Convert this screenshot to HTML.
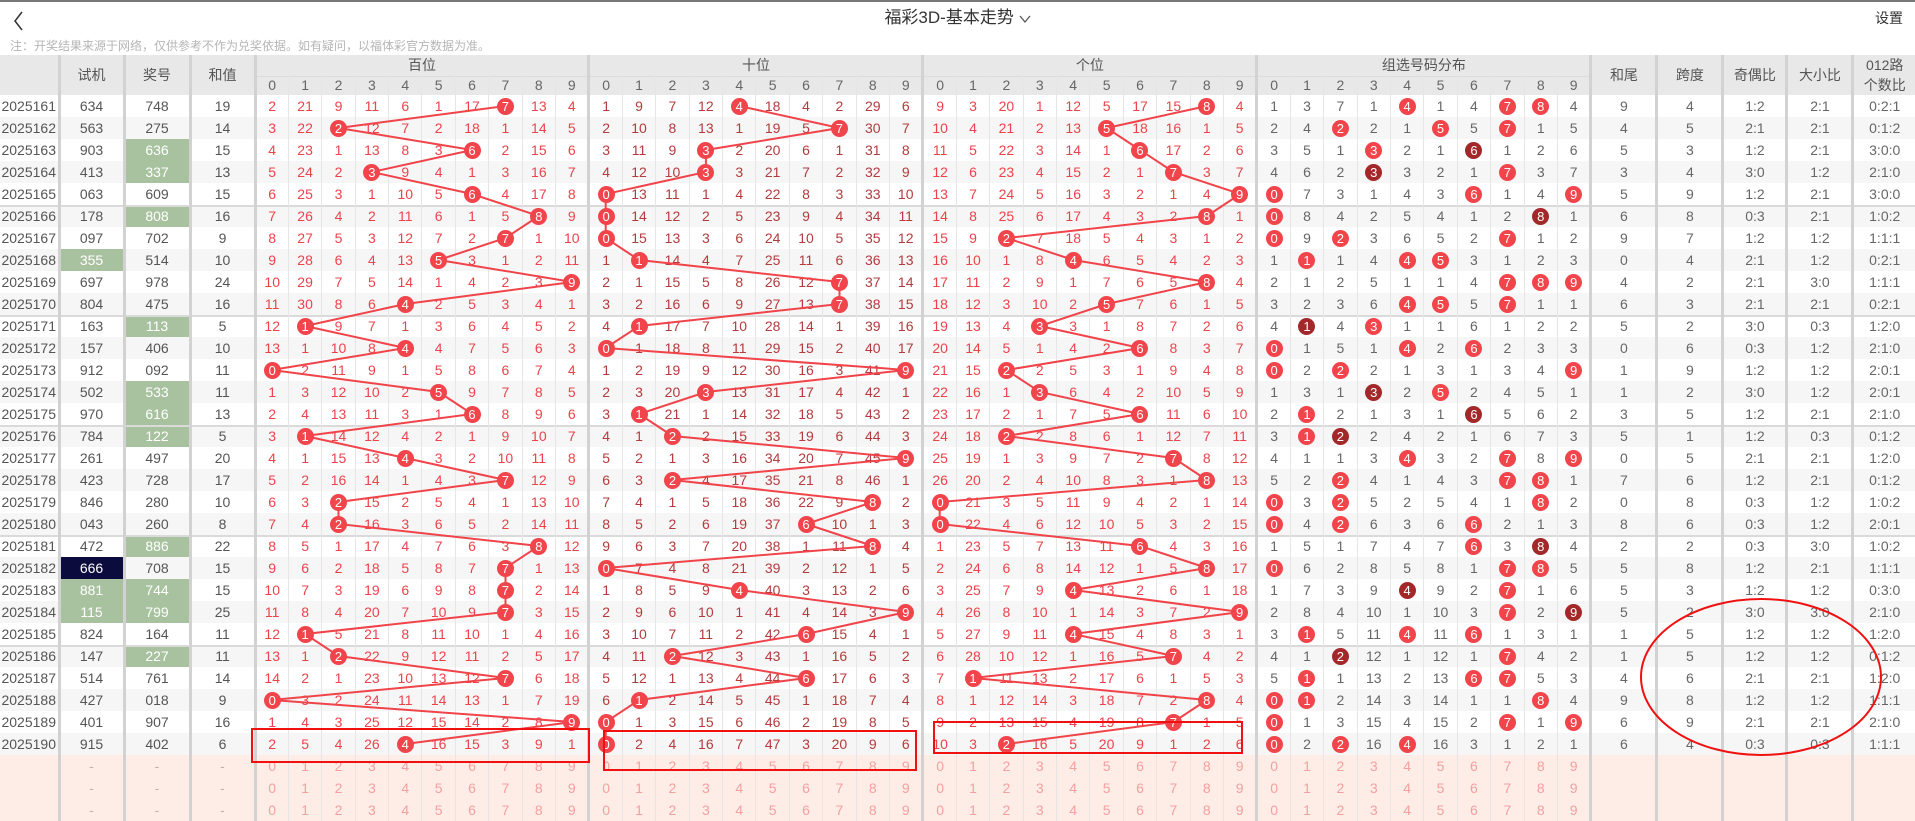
<!DOCTYPE html>
<html><head><meta charset="utf-8"><style>
*{margin:0;padding:0;box-sizing:border-box}
body{width:1915px;height:806px;overflow:hidden;background:#fff;position:relative;font-family:"Liberation Sans","Noto Sans CJK SC",sans-serif;color:#555}
.topl{position:absolute;left:0;top:0;width:1915px;height:2px;background:#777}
.title{position:absolute;left:0;top:6px;width:1915px;text-align:center;font-size:17px;color:#333;line-height:24px}
.set{position:absolute;right:12px;top:8px;font-size:14px;color:#333;line-height:20px}
.note{position:absolute;left:10px;top:38px;font-size:12px;color:#b5b5b5;line-height:16px;white-space:nowrap}
table{position:absolute;left:0;top:55px;width:1915px;border-collapse:collapse;table-layout:fixed;font-size:14px}
td{height:22px;padding:0;text-align:center;vertical-align:middle;line-height:22px;border-left:1px solid #e6e6e6;white-space:nowrap;overflow:visible}
tr.h td{background:#e8e8e8;color:#555;border-left:3px solid #d2d2d2;height:21px;line-height:21px}
tr.h2 td{background:#e8e8e8;color:#666;height:19px;line-height:19px;box-shadow:inset 0 1px 0 #dcdcdc}
tr.h2 td:nth-child(10n+1){border-left:3px solid #d2d2d2}
tr.r:nth-child(even) td{background:#f6f6f6}
tr.r td:nth-child(-n+4),tr.r td:nth-child(10n+5),tr.r td:nth-child(n+45),tr.f td:nth-child(-n+4),tr.f td:nth-child(10n+5),tr.f td:nth-child(n+45){border-left:3px solid #d2d2d2}
tr.r td:first-child,tr.f td:first-child,tr.h td:first-child{border-left:none}
tr.r td:nth-child(n+5):nth-child(-n+14),tr.r td:nth-child(n+25):nth-child(-n+34){color:#ec434b}
tr.r td:nth-child(n+15):nth-child(-n+24){color:#b43a3c}
tr.r td:nth-child(n+35){color:#666}
tr.r td:first-child{color:#555}
tr.k td{box-shadow:inset 0 2px 0 #dadada}
tr.f td{background:#fdede6;color:#f5a0a0}
tr.f td:nth-child(-n+4){color:#c8b0a8}
td.g{background:#a8c2a0 !important;color:#fff !important}
td.n{background:#0b0b3d !important;color:#fff !important}
i{display:inline-block;width:17px;height:17px;line-height:17px;border-radius:50%;background:#f2444b;color:#fff;font-style:normal;position:relative;z-index:2;font-size:13px;vertical-align:middle;margin-top:-2px}
i.d{background:#a2282a}
svg.ln{position:absolute;left:0;top:0;z-index:1;pointer-events:none}
svg.an{position:absolute;left:0;top:0;z-index:3;pointer-events:none}
</style></head><body>
<div class="topl"></div>
<svg style="position:absolute;left:12px;top:10px" width="14" height="22"><polyline points="10,2 3,11 10,20" fill="none" stroke="#333" stroke-width="1.5"/></svg>
<div class="title">福彩3D-基本走势 <svg width="12" height="10" style="vertical-align:middle"><polyline points="1,2 6,8 11,2" fill="none" stroke="#555" stroke-width="1.3"/></svg></div>
<div class="set">设置</div>
<div class="note">注：开奖结果来源于网络，仅供参考不作为兑奖依据。如有疑问，以福体彩官方数据为准。</div>
<table>
<colgroup><col style="width:59px"><col style="width:65px"><col style="width:66px"><col style="width:65px">
<col span="40" style="width:33.4px">
<col style="width:66px"><col style="width:66px"><col style="width:64px"><col style="width:66px"><col style="width:62px"></colgroup>
<tr class="h"><td rowspan="2" style="height:40px"></td><td rowspan="2">试机</td><td rowspan="2">奖号</td><td rowspan="2">和值</td><td colspan="10">百位</td><td colspan="10">十位</td><td colspan="10">个位</td><td colspan="10">组选号码分布</td><td rowspan="2">和尾</td><td rowspan="2">跨度</td><td rowspan="2">奇偶比</td><td rowspan="2">大小比</td><td rowspan="2" style="line-height:20px">012路<br>个数比</td></tr>
<tr class="h2"><td>0<td>1<td>2<td>3<td>4<td>5<td>6<td>7<td>8<td>9<td>0<td>1<td>2<td>3<td>4<td>5<td>6<td>7<td>8<td>9<td>0<td>1<td>2<td>3<td>4<td>5<td>6<td>7<td>8<td>9<td>0<td>1<td>2<td>3<td>4<td>5<td>6<td>7<td>8<td>9</tr>
<tr class="r"><td>2025161<td>634<td>748<td>19<td>2<td>21<td>9<td>11<td>6<td>1<td>17<td><i>7</i><td>13<td>4<td>1<td>9<td>7<td>12<td><i>4</i><td>18<td>4<td>2<td>29<td>6<td>9<td>3<td>20<td>1<td>12<td>5<td>17<td>15<td><i>8</i><td>4<td>1<td>3<td>7<td>1<td><i>4</i><td>1<td>4<td><i>7</i><td><i>8</i><td>4<td>9<td>4<td>1:2<td>2:1<td>0:2:1</tr>
<tr class="r"><td>2025162<td>563<td>275<td>14<td>3<td>22<td><i>2</i><td>12<td>7<td>2<td>18<td>1<td>14<td>5<td>2<td>10<td>8<td>13<td>1<td>19<td>5<td><i>7</i><td>30<td>7<td>10<td>4<td>21<td>2<td>13<td><i>5</i><td>18<td>16<td>1<td>5<td>2<td>4<td><i>2</i><td>2<td>1<td><i>5</i><td>5<td><i>7</i><td>1<td>5<td>4<td>5<td>2:1<td>2:1<td>0:1:2</tr>
<tr class="r"><td>2025163<td>903<td class="g">636<td>15<td>4<td>23<td>1<td>13<td>8<td>3<td><i>6</i><td>2<td>15<td>6<td>3<td>11<td>9<td><i>3</i><td>2<td>20<td>6<td>1<td>31<td>8<td>11<td>5<td>22<td>3<td>14<td>1<td><i>6</i><td>17<td>2<td>6<td>3<td>5<td>1<td><i>3</i><td>2<td>1<td><i class="d">6</i><td>1<td>2<td>6<td>5<td>3<td>1:2<td>2:1<td>3:0:0</tr>
<tr class="r"><td>2025164<td>413<td class="g">337<td>13<td>5<td>24<td>2<td><i>3</i><td>9<td>4<td>1<td>3<td>16<td>7<td>4<td>12<td>10<td><i>3</i><td>3<td>21<td>7<td>2<td>32<td>9<td>12<td>6<td>23<td>4<td>15<td>2<td>1<td><i>7</i><td>3<td>7<td>4<td>6<td>2<td><i class="d">3</i><td>3<td>2<td>1<td><i>7</i><td>3<td>7<td>3<td>4<td>3:0<td>1:2<td>2:1:0</tr>
<tr class="r"><td>2025165<td>063<td>609<td>15<td>6<td>25<td>3<td>1<td>10<td>5<td><i>6</i><td>4<td>17<td>8<td><i>0</i><td>13<td>11<td>1<td>4<td>22<td>8<td>3<td>33<td>10<td>13<td>7<td>24<td>5<td>16<td>3<td>2<td>1<td>4<td><i>9</i><td><i>0</i><td>7<td>3<td>1<td>4<td>3<td><i>6</i><td>1<td>4<td><i>9</i><td>5<td>9<td>1:2<td>2:1<td>3:0:0</tr>
<tr class="r k"><td>2025166<td>178<td class="g">808<td>16<td>7<td>26<td>4<td>2<td>11<td>6<td>1<td>5<td><i>8</i><td>9<td><i>0</i><td>14<td>12<td>2<td>5<td>23<td>9<td>4<td>34<td>11<td>14<td>8<td>25<td>6<td>17<td>4<td>3<td>2<td><i>8</i><td>1<td><i>0</i><td>8<td>4<td>2<td>5<td>4<td>1<td>2<td><i class="d">8</i><td>1<td>6<td>8<td>0:3<td>2:1<td>1:0:2</tr>
<tr class="r"><td>2025167<td>097<td>702<td>9<td>8<td>27<td>5<td>3<td>12<td>7<td>2<td><i>7</i><td>1<td>10<td><i>0</i><td>15<td>13<td>3<td>6<td>24<td>10<td>5<td>35<td>12<td>15<td>9<td><i>2</i><td>7<td>18<td>5<td>4<td>3<td>1<td>2<td><i>0</i><td>9<td><i>2</i><td>3<td>6<td>5<td>2<td><i>7</i><td>1<td>2<td>9<td>7<td>1:2<td>1:2<td>1:1:1</tr>
<tr class="r"><td>2025168<td class="g">355<td>514<td>10<td>9<td>28<td>6<td>4<td>13<td><i>5</i><td>3<td>1<td>2<td>11<td>1<td><i>1</i><td>14<td>4<td>7<td>25<td>11<td>6<td>36<td>13<td>16<td>10<td>1<td>8<td><i>4</i><td>6<td>5<td>4<td>2<td>3<td>1<td><i>1</i><td>1<td>4<td><i>4</i><td><i>5</i><td>3<td>1<td>2<td>3<td>0<td>4<td>2:1<td>1:2<td>0:2:1</tr>
<tr class="r"><td>2025169<td>697<td>978<td>24<td>10<td>29<td>7<td>5<td>14<td>1<td>4<td>2<td>3<td><i>9</i><td>2<td>1<td>15<td>5<td>8<td>26<td>12<td><i>7</i><td>37<td>14<td>17<td>11<td>2<td>9<td>1<td>7<td>6<td>5<td><i>8</i><td>4<td>2<td>1<td>2<td>5<td>1<td>1<td>4<td><i>7</i><td><i>8</i><td><i>9</i><td>4<td>2<td>2:1<td>3:0<td>1:1:1</tr>
<tr class="r"><td>2025170<td>804<td>475<td>16<td>11<td>30<td>8<td>6<td><i>4</i><td>2<td>5<td>3<td>4<td>1<td>3<td>2<td>16<td>6<td>9<td>27<td>13<td><i>7</i><td>38<td>15<td>18<td>12<td>3<td>10<td>2<td><i>5</i><td>7<td>6<td>1<td>5<td>3<td>2<td>3<td>6<td><i>4</i><td><i>5</i><td>5<td><i>7</i><td>1<td>1<td>6<td>3<td>2:1<td>2:1<td>0:2:1</tr>
<tr class="r k"><td>2025171<td>163<td class="g">113<td>5<td>12<td><i>1</i><td>9<td>7<td>1<td>3<td>6<td>4<td>5<td>2<td>4<td><i>1</i><td>17<td>7<td>10<td>28<td>14<td>1<td>39<td>16<td>19<td>13<td>4<td><i>3</i><td>3<td>1<td>8<td>7<td>2<td>6<td>4<td><i class="d">1</i><td>4<td><i>3</i><td>1<td>1<td>6<td>1<td>2<td>2<td>5<td>2<td>3:0<td>0:3<td>1:2:0</tr>
<tr class="r"><td>2025172<td>157<td>406<td>10<td>13<td>1<td>10<td>8<td><i>4</i><td>4<td>7<td>5<td>6<td>3<td><i>0</i><td>1<td>18<td>8<td>11<td>29<td>15<td>2<td>40<td>17<td>20<td>14<td>5<td>1<td>4<td>2<td><i>6</i><td>8<td>3<td>7<td><i>0</i><td>1<td>5<td>1<td><i>4</i><td>2<td><i>6</i><td>2<td>3<td>3<td>0<td>6<td>0:3<td>1:2<td>2:1:0</tr>
<tr class="r"><td>2025173<td>912<td>092<td>11<td><i>0</i><td>2<td>11<td>9<td>1<td>5<td>8<td>6<td>7<td>4<td>1<td>2<td>19<td>9<td>12<td>30<td>16<td>3<td>41<td><i>9</i><td>21<td>15<td><i>2</i><td>2<td>5<td>3<td>1<td>9<td>4<td>8<td><i>0</i><td>2<td><i>2</i><td>2<td>1<td>3<td>1<td>3<td>4<td><i>9</i><td>1<td>9<td>1:2<td>1:2<td>2:0:1</tr>
<tr class="r"><td>2025174<td>502<td class="g">533<td>11<td>1<td>3<td>12<td>10<td>2<td><i>5</i><td>9<td>7<td>8<td>5<td>2<td>3<td>20<td><i>3</i><td>13<td>31<td>17<td>4<td>42<td>1<td>22<td>16<td>1<td><i>3</i><td>6<td>4<td>2<td>10<td>5<td>9<td>1<td>3<td>1<td><i class="d">3</i><td>2<td><i>5</i><td>2<td>4<td>5<td>1<td>1<td>2<td>3:0<td>1:2<td>2:0:1</tr>
<tr class="r"><td>2025175<td>970<td class="g">616<td>13<td>2<td>4<td>13<td>11<td>3<td>1<td><i>6</i><td>8<td>9<td>6<td>3<td><i>1</i><td>21<td>1<td>14<td>32<td>18<td>5<td>43<td>2<td>23<td>17<td>2<td>1<td>7<td>5<td><i>6</i><td>11<td>6<td>10<td>2<td><i>1</i><td>2<td>1<td>3<td>1<td><i class="d">6</i><td>5<td>6<td>2<td>3<td>5<td>1:2<td>2:1<td>2:1:0</tr>
<tr class="r k"><td>2025176<td>784<td class="g">122<td>5<td>3<td><i>1</i><td>14<td>12<td>4<td>2<td>1<td>9<td>10<td>7<td>4<td>1<td><i>2</i><td>2<td>15<td>33<td>19<td>6<td>44<td>3<td>24<td>18<td><i>2</i><td>2<td>8<td>6<td>1<td>12<td>7<td>11<td>3<td><i>1</i><td><i class="d">2</i><td>2<td>4<td>2<td>1<td>6<td>7<td>3<td>5<td>1<td>1:2<td>0:3<td>0:1:2</tr>
<tr class="r"><td>2025177<td>261<td>497<td>20<td>4<td>1<td>15<td>13<td><i>4</i><td>3<td>2<td>10<td>11<td>8<td>5<td>2<td>1<td>3<td>16<td>34<td>20<td>7<td>45<td><i>9</i><td>25<td>19<td>1<td>3<td>9<td>7<td>2<td><i>7</i><td>8<td>12<td>4<td>1<td>1<td>3<td><i>4</i><td>3<td>2<td><i>7</i><td>8<td><i>9</i><td>0<td>5<td>2:1<td>2:1<td>1:2:0</tr>
<tr class="r"><td>2025178<td>423<td>728<td>17<td>5<td>2<td>16<td>14<td>1<td>4<td>3<td><i>7</i><td>12<td>9<td>6<td>3<td><i>2</i><td>4<td>17<td>35<td>21<td>8<td>46<td>1<td>26<td>20<td>2<td>4<td>10<td>8<td>3<td>1<td><i>8</i><td>13<td>5<td>2<td><i>2</i><td>4<td>1<td>4<td>3<td><i>7</i><td><i>8</i><td>1<td>7<td>6<td>1:2<td>2:1<td>0:1:2</tr>
<tr class="r"><td>2025179<td>846<td>280<td>10<td>6<td>3<td><i>2</i><td>15<td>2<td>5<td>4<td>1<td>13<td>10<td>7<td>4<td>1<td>5<td>18<td>36<td>22<td>9<td><i>8</i><td>2<td><i>0</i><td>21<td>3<td>5<td>11<td>9<td>4<td>2<td>1<td>14<td><i>0</i><td>3<td><i>2</i><td>5<td>2<td>5<td>4<td>1<td><i>8</i><td>2<td>0<td>8<td>0:3<td>1:2<td>1:0:2</tr>
<tr class="r"><td>2025180<td>043<td>260<td>8<td>7<td>4<td><i>2</i><td>16<td>3<td>6<td>5<td>2<td>14<td>11<td>8<td>5<td>2<td>6<td>19<td>37<td><i>6</i><td>10<td>1<td>3<td><i>0</i><td>22<td>4<td>6<td>12<td>10<td>5<td>3<td>2<td>15<td><i>0</i><td>4<td><i>2</i><td>6<td>3<td>6<td><i>6</i><td>2<td>1<td>3<td>8<td>6<td>0:3<td>1:2<td>2:0:1</tr>
<tr class="r k"><td>2025181<td>472<td class="g">886<td>22<td>8<td>5<td>1<td>17<td>4<td>7<td>6<td>3<td><i>8</i><td>12<td>9<td>6<td>3<td>7<td>20<td>38<td>1<td>11<td><i>8</i><td>4<td>1<td>23<td>5<td>7<td>13<td>11<td><i>6</i><td>4<td>3<td>16<td>1<td>5<td>1<td>7<td>4<td>7<td><i>6</i><td>3<td><i class="d">8</i><td>4<td>2<td>2<td>0:3<td>3:0<td>1:0:2</tr>
<tr class="r"><td>2025182<td class="n">666<td>708<td>15<td>9<td>6<td>2<td>18<td>5<td>8<td>7<td><i>7</i><td>1<td>13<td><i>0</i><td>7<td>4<td>8<td>21<td>39<td>2<td>12<td>1<td>5<td>2<td>24<td>6<td>8<td>14<td>12<td>1<td>5<td><i>8</i><td>17<td><i>0</i><td>6<td>2<td>8<td>5<td>8<td>1<td><i>7</i><td><i>8</i><td>5<td>5<td>8<td>1:2<td>2:1<td>1:1:1</tr>
<tr class="r"><td>2025183<td class="g">881<td class="g">744<td>15<td>10<td>7<td>3<td>19<td>6<td>9<td>8<td><i>7</i><td>2<td>14<td>1<td>8<td>5<td>9<td><i>4</i><td>40<td>3<td>13<td>2<td>6<td>3<td>25<td>7<td>9<td><i>4</i><td>13<td>2<td>6<td>1<td>18<td>1<td>7<td>3<td>9<td><i class="d">4</i><td>9<td>2<td><i>7</i><td>1<td>6<td>5<td>3<td>1:2<td>1:2<td>0:3:0</tr>
<tr class="r"><td>2025184<td class="g">115<td class="g">799<td>25<td>11<td>8<td>4<td>20<td>7<td>10<td>9<td><i>7</i><td>3<td>15<td>2<td>9<td>6<td>10<td>1<td>41<td>4<td>14<td>3<td><i>9</i><td>4<td>26<td>8<td>10<td>1<td>14<td>3<td>7<td>2<td><i>9</i><td>2<td>8<td>4<td>10<td>1<td>10<td>3<td><i>7</i><td>2<td><i class="d">9</i><td>5<td>2<td>3:0<td>3:0<td>2:1:0</tr>
<tr class="r"><td>2025185<td>824<td>164<td>11<td>12<td><i>1</i><td>5<td>21<td>8<td>11<td>10<td>1<td>4<td>16<td>3<td>10<td>7<td>11<td>2<td>42<td><i>6</i><td>15<td>4<td>1<td>5<td>27<td>9<td>11<td><i>4</i><td>15<td>4<td>8<td>3<td>1<td>3<td><i>1</i><td>5<td>11<td><i>4</i><td>11<td><i>6</i><td>1<td>3<td>1<td>1<td>5<td>1:2<td>1:2<td>1:2:0</tr>
<tr class="r k"><td>2025186<td>147<td class="g">227<td>11<td>13<td>1<td><i>2</i><td>22<td>9<td>12<td>11<td>2<td>5<td>17<td>4<td>11<td><i>2</i><td>12<td>3<td>43<td>1<td>16<td>5<td>2<td>6<td>28<td>10<td>12<td>1<td>16<td>5<td><i>7</i><td>4<td>2<td>4<td>1<td><i class="d">2</i><td>12<td>1<td>12<td>1<td><i>7</i><td>4<td>2<td>1<td>5<td>1:2<td>1:2<td>0:1:2</tr>
<tr class="r"><td>2025187<td>514<td>761<td>14<td>14<td>2<td>1<td>23<td>10<td>13<td>12<td><i>7</i><td>6<td>18<td>5<td>12<td>1<td>13<td>4<td>44<td><i>6</i><td>17<td>6<td>3<td>7<td><i>1</i><td>11<td>13<td>2<td>17<td>6<td>1<td>5<td>3<td>5<td><i>1</i><td>1<td>13<td>2<td>13<td><i>6</i><td><i>7</i><td>5<td>3<td>4<td>6<td>2:1<td>2:1<td>1:2:0</tr>
<tr class="r"><td>2025188<td>427<td>018<td>9<td><i>0</i><td>3<td>2<td>24<td>11<td>14<td>13<td>1<td>7<td>19<td>6<td><i>1</i><td>2<td>14<td>5<td>45<td>1<td>18<td>7<td>4<td>8<td>1<td>12<td>14<td>3<td>18<td>7<td>2<td><i>8</i><td>4<td><i>0</i><td><i>1</i><td>2<td>14<td>3<td>14<td>1<td>1<td><i>8</i><td>4<td>9<td>8<td>1:2<td>1:2<td>1:1:1</tr>
<tr class="r"><td>2025189<td>401<td>907<td>16<td>1<td>4<td>3<td>25<td>12<td>15<td>14<td>2<td>8<td><i>9</i><td><i>0</i><td>1<td>3<td>15<td>6<td>46<td>2<td>19<td>8<td>5<td>9<td>2<td>13<td>15<td>4<td>19<td>8<td><i>7</i><td>1<td>5<td><i>0</i><td>1<td>3<td>15<td>4<td>15<td>2<td><i>7</i><td>1<td><i>9</i><td>6<td>9<td>2:1<td>2:1<td>2:1:0</tr>
<tr class="r"><td>2025190<td>915<td>402<td>6<td>2<td>5<td>4<td>26<td><i>4</i><td>16<td>15<td>3<td>9<td>1<td><i>0</i><td>2<td>4<td>16<td>7<td>47<td>3<td>20<td>9<td>6<td>10<td>3<td><i>2</i><td>16<td>5<td>20<td>9<td>1<td>2<td>6<td><i>0</i><td>2<td><i>2</i><td>16<td><i>4</i><td>16<td>3<td>1<td>2<td>1<td>6<td>4<td>0:3<td>0:3<td>1:1:1</tr>
<tr class="f"><td><td>-<td>-<td>-<td>0<td>1<td>2<td>3<td>4<td>5<td>6<td>7<td>8<td>9<td>0<td>1<td>2<td>3<td>4<td>5<td>6<td>7<td>8<td>9<td>0<td>1<td>2<td>3<td>4<td>5<td>6<td>7<td>8<td>9<td>0<td>1<td>2<td>3<td>4<td>5<td>6<td>7<td>8<td>9<td><td><td><td><td></tr>
<tr class="f"><td><td>-<td>-<td>-<td>0<td>1<td>2<td>3<td>4<td>5<td>6<td>7<td>8<td>9<td>0<td>1<td>2<td>3<td>4<td>5<td>6<td>7<td>8<td>9<td>0<td>1<td>2<td>3<td>4<td>5<td>6<td>7<td>8<td>9<td>0<td>1<td>2<td>3<td>4<td>5<td>6<td>7<td>8<td>9<td><td><td><td><td></tr>
<tr class="f"><td><td>-<td>-<td>-<td>0<td>1<td>2<td>3<td>4<td>5<td>6<td>7<td>8<td>9<td>0<td>1<td>2<td>3<td>4<td>5<td>6<td>7<td>8<td>9<td>0<td>1<td>2<td>3<td>4<td>5<td>6<td>7<td>8<td>9<td>0<td>1<td>2<td>3<td>4<td>5<td>6<td>7<td>8<td>9<td><td><td><td><td></tr>
</table>
<svg class="ln" width="1915" height="806">
<g fill="none" stroke="#f0444a" stroke-width="2">
<polyline vector-effect="non-scaling-stroke" transform="translate(271.7,106) scale(33.4,22)" points="7,0 2,1 6,2 3,3 6,4 8,5 7,6 5,7 9,8 4,9 1,10 4,11 0,12 5,13 6,14 1,15 4,16 7,17 2,18 2,19 8,20 7,21 7,22 7,23 1,24 2,25 7,26 0,27 9,28 4,29"/>
<polyline vector-effect="non-scaling-stroke" transform="translate(605.7,106) scale(33.4,22)" points="4,0 7,1 3,2 3,3 0,4 0,5 0,6 1,7 7,8 7,9 1,10 0,11 9,12 3,13 1,14 2,15 9,16 2,17 8,18 6,19 8,20 0,21 4,22 9,23 6,24 2,25 6,26 1,27 0,28 0,29"/>
<polyline vector-effect="non-scaling-stroke" transform="translate(939.7,106) scale(33.4,22)" points="8,0 5,1 6,2 7,3 9,4 8,5 2,6 4,7 8,8 5,9 3,10 6,11 2,12 3,13 6,14 2,15 7,16 8,17 0,18 0,19 6,20 8,21 4,22 9,23 4,24 7,25 1,26 8,27 7,28 2,29"/>
</g></svg>
<svg class="an" width="1915" height="806">
<g fill="none" stroke="#f01010" stroke-width="2">
<rect x="252" y="729" width="337" height="33"/>
<rect x="604" y="731" width="312" height="39"/>
<rect x="934" y="722" width="308" height="31"/>
<ellipse cx="1761" cy="677" rx="120" ry="78"/>
</g></svg>
</body></html>
